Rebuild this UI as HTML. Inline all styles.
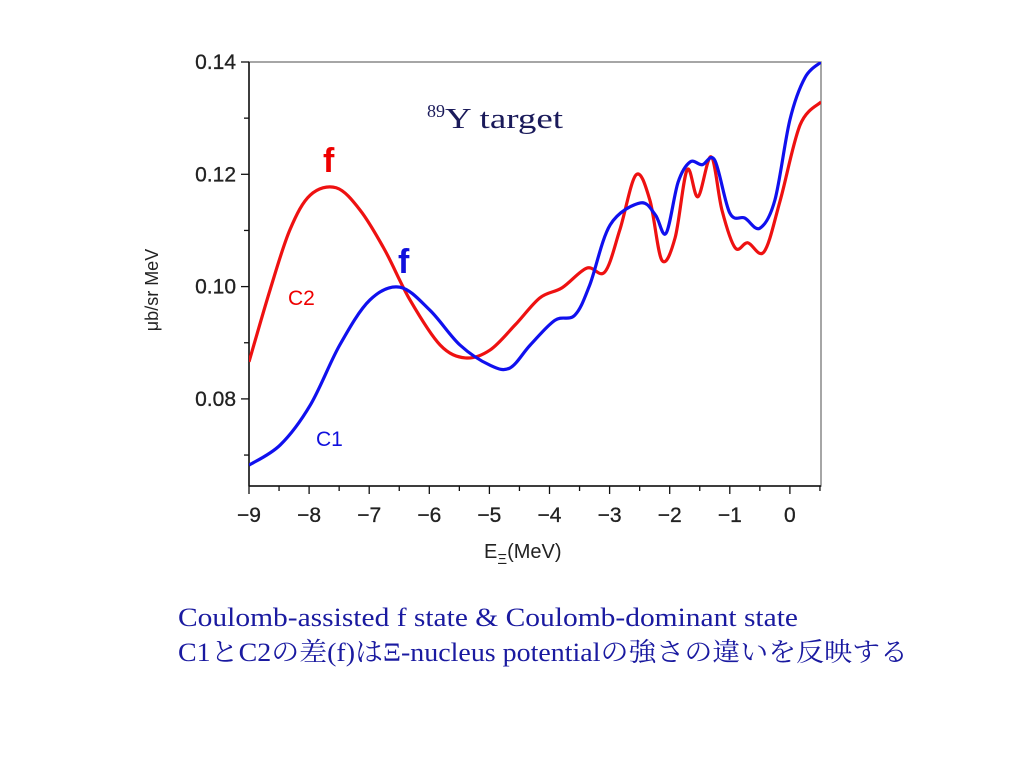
<!DOCTYPE html>
<html><head><meta charset="utf-8"><style>
html,body{margin:0;padding:0;background:#fff;width:1024px;height:768px;overflow:hidden}
svg text{font-family:"Liberation Sans","Noto Sans CJK JP",sans-serif}
</style></head><body>
<svg id="chart" width="1024" height="768" viewBox="0 0 1024 768" xmlns="http://www.w3.org/2000/svg">
<defs><clipPath id="clip"><rect x="249" y="62" width="572" height="424"/></clipPath></defs>
<rect x="249" y="62" width="572" height="424" fill="none" stroke="#888" stroke-width="1.5"/>
<g id="axes"></g>
<g id="series" clip-path="url(#clip)"></g>
<text transform="translate(158,290) rotate(-90)" text-anchor="middle" font-size="18" fill="#222">μb/sr MeV</text>
<text x="484" y="558" font-size="20" fill="#222">E<tspan font-size="15" dy="6">Ξ</tspan><tspan dy="-6">(MeV)</tspan></text>
<text x="427" y="128" font-size="29" fill="#1a1a5a" style="font-family:'Liberation Serif',serif"><tspan font-size="18" dy="-11">89</tspan><tspan dy="11" textLength="118" lengthAdjust="spacingAndGlyphs">Y target</tspan></text>
<text x="323" y="172" font-size="34" font-weight="bold" fill="#e00">f</text>
<text x="398" y="273" font-size="34" font-weight="bold" fill="#1010dd">f</text>
<text x="288" y="305" font-size="21" fill="#e00">C2</text>
<text x="316" y="446" font-size="21" fill="#1010dd">C1</text>
<text x="178" y="626" font-size="26" fill="#1a1aa0" textLength="620" lengthAdjust="spacingAndGlyphs" style="font-family:'Liberation Serif','Noto Serif CJK SC',serif">Coulomb-assisted f state &amp; Coulomb-dominant state</text>
<text x="178" y="661" font-size="26" fill="#1a1aa0" textLength="730" lengthAdjust="spacingAndGlyphs" style="font-family:'Liberation Serif','Noto Serif CJK SC',serif">C1とC2の差(f)はΞ-nucleus potentialの強さの違いを反映する</text>
</svg>
<script>
const xTicks=[-9,-8,-7,-6,-5,-4,-3,-2,-1,0];
const yTicks=[0.08,0.10,0.12,0.14];
const c2X=[-9.00,-8.65,-8.32,-7.98,-7.55,-7.15,-6.74,-6.32,-5.82,-5.40,-4.99,-4.57,-4.16,-3.79,-3.38,-3.08,-2.83,-2.56,-2.33,-2.13,-1.91,-1.71,-1.53,-1.31,-1.13,-0.91,-0.70,-0.43,-0.16,0.17,0.52];
const c2Y=[0.0866,0.0994,0.1101,0.1163,0.1176,0.1136,0.1065,0.0976,0.0896,0.0873,0.0887,0.0932,0.0980,0.0998,0.1033,0.1026,0.1101,0.1199,0.1154,0.1047,0.1087,0.1208,0.1160,0.1231,0.1136,0.1069,0.1078,0.1062,0.1154,0.1288,0.1329];
const c1X=[-9.00,-8.48,-7.98,-7.49,-6.99,-6.49,-5.99,-5.49,-4.99,-4.66,-4.32,-3.91,-3.58,-3.33,-2.99,-2.49,-2.24,-2.06,-1.86,-1.66,-1.46,-1.25,-1.00,-0.75,-0.50,-0.25,0.00,0.25,0.52];
const c1Y=[0.0682,0.0718,0.0789,0.0896,0.0976,0.0999,0.0958,0.0896,0.0860,0.0855,0.0896,0.0940,0.0949,0.1003,0.1110,0.1149,0.1128,0.1095,0.1186,0.1222,0.1217,0.1225,0.1131,0.1122,0.1104,0.1154,0.1297,0.1372,0.1400];
const NS='http://www.w3.org/2000/svg';
const X=v=>249+(v+9)*60.1;
const Y=v=>62+(0.14-v)*5615;
const axes=document.getElementById('axes');
function mk(tag,attrs,parent){const e=document.createElementNS(NS,tag);for(const k in attrs)e.setAttribute(k,attrs[k]);parent.appendChild(e);return e;}
const xl=mk('line',{x1:249,y1:486,x2:821,y2:486,stroke:'#111','stroke-width':1.5},axes);


const yl=mk('line',{x1:249,y1:62,x2:249,y2:486,stroke:'#111','stroke-width':1.5},axes);


for(let v=-9;v<=0.5;v+=0.5){const big=Math.abs(v-Math.round(v))<1e-6;
 const t=mk('line',{x1:X(v),y1:486,x2:X(v),y2:big?494:491,stroke:'#111','stroke-width':1.3},axes);
 
 }
xTicks.forEach(v=>{const t=mk('text',{x:X(v),y:522,'text-anchor':'middle','font-size':21,fill:'#222',stroke:'#222','stroke-width':0.3},axes);t.textContent=v<0?'−'+Math.abs(v):String(v);
 
 });
for(let v=0.07;v<=0.1401;v+=0.01){
 const big=Math.abs(v*50-Math.round(v*50))<1e-6;
 const t=mk('line',{x1:big?241:244,y1:Y(v),x2:249,y2:Y(v),stroke:'#111','stroke-width':1.3},axes);
 
 }
yTicks.forEach(v=>{const t=mk('text',{x:236,y:Y(v)+7,'text-anchor':'end','font-size':21,fill:'#222',stroke:'#222','stroke-width':0.3},axes);t.textContent=v.toFixed(2);
 
 });
function path(xs,ys){const p=xs.map((x,i)=>[X(x),Y(ys[i])]);let d='M'+p[0][0]+','+p[0][1];
 for(let i=0;i<p.length-1;i++){const p0=p[i-1]||p[i],p1=p[i],p2=p[i+1],p3=p[i+2]||p2;
  d+=' C'+(p1[0]+(p2[0]-p0[0])/6)+','+(p1[1]+(p2[1]-p0[1])/6)+' '+(p2[0]-(p3[0]-p1[0])/6)+','+(p2[1]-(p3[1]-p1[1])/6)+' '+p2[0]+','+p2[1];}
 return d;}
const g=document.getElementById('series');
const r=mk('path',{d:path(c2X,c2Y),fill:'none',stroke:'#ee1111','stroke-width':3.2},g);


const b=mk('path',{d:path(c1X,c1Y),fill:'none',stroke:'#1010ee','stroke-width':3.2},g);


</script>
</body></html>
